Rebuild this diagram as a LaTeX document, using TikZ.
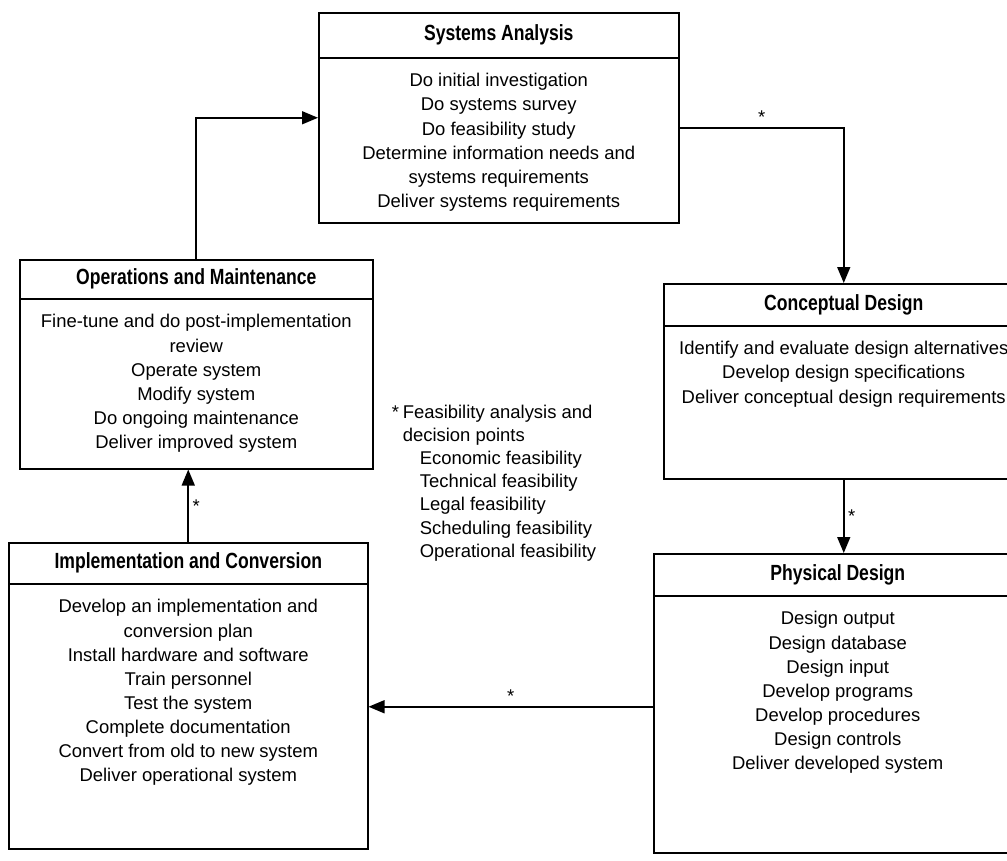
\documentclass[tikz,border=0pt]{standalone}
\usepackage{fontspec}
\setmainfont{Liberation Sans}
\newfontfamily\headfont{Liberation Sans}[FakeStretch=0.8]
\usetikzlibrary{positioning,arrows.meta}

\newcommand{\boxtext}[3]{\parbox[c][#2][t]{#1}{\centering\vspace*{7pt}\strut #3}}

\begin{document}
\begin{tikzpicture}[
    x=0.02cm, y=-0.02cm,
    line width=0.9pt,
    phase/.style={draw, anchor=north west, inner sep=0pt, minimum height=0.84cm, font=\headfont\bfseries\fontsize{12.5}{14}\selectfont},
    tasks/.style={draw, inner sep=0pt, font=\fontsize{10.5}{13.7}\selectfont},
    arrow/.style={-{Triangle[length=3.2mm, width=2.6mm]}},
    star/.style={font=\fontsize{10.5}{12}\selectfont, inner sep=2pt}
]
\useasboundingbox (0,0) rectangle (1007,861);

% Systems analysis
\node[phase, minimum width=7.2cm, minimum height=0.9cm] (saHead) at (318,12) {Systems Analysis};
\node[tasks, below=-0.9pt of saHead] (saBody) {\boxtext{7.2cm}{3.3cm}{Do initial investigation\\ Do systems survey\\ Do feasibility study\\ Determine information needs and\\ systems requirements\\ Deliver systems requirements}};

% Conceptual design
\node[phase, minimum width=7.2cm] (cdHead) at (663,283) {Conceptual Design};
\node[tasks, below=-0.9pt of cdHead] (cdBody) {\boxtext{7.2cm}{3.06cm}{Identify and evaluate design alternatives\\ Develop design specifications\\ Deliver conceptual design requirements}};

% Physical design
\node[phase, minimum width=7.36cm] (pdHead) at (653,553) {Physical Design};
\node[tasks, below=-0.9pt of pdHead] (pdBody) {\boxtext{7.36cm}{5.14cm}{Design output\\ Design database\\ Design input\\ Develop programs\\ Develop procedures\\ Design controls\\ Deliver developed system}};

% Implementation and conversion
\node[phase, minimum width=7.18cm, minimum height=0.82cm] (icHead) at (8,542) {Implementation and Conversion};
\node[tasks, below=-0.9pt of icHead] (icBody) {\boxtext{7.18cm}{5.3cm}{Develop an implementation and\\ conversion plan\\ Install hardware and software\\ Train personnel\\ Test the system\\ Complete documentation\\ Convert from old to new system\\ Deliver operational system}};

% Operations and maintenance
\node[phase, minimum width=7.06cm, minimum height=0.78cm] (omHead) at (19,259) {Operations and Maintenance};
\node[tasks, below=-0.9pt of omHead] (omBody) {\boxtext{7.06cm}{3.4cm}{Fine-tune and do post-implementation\\ review\\ Operate system\\ Modify system\\ Do ongoing maintenance\\ Deliver improved system}};

% Feasibility note
\node[anchor=north west, align=left, inner sep=0pt, font=\fontsize{10.5}{13.2}\selectfont] (note) at (391,404)
    {\makebox[0.22cm][l]{*}Feasibility analysis and\\
     \hspace*{0.22cm}decision points\\
     \hspace*{0.56cm}Economic feasibility\\
     \hspace*{0.56cm}Technical feasibility\\
     \hspace*{0.56cm}Legal feasibility\\
     \hspace*{0.56cm}Scheduling feasibility\\
     \hspace*{0.56cm}Operational feasibility};

% Phase connections
\draw[arrow] (omHead.north) |- ([yshift=0.45cm]saBody.west);
\draw[arrow] ([yshift=0.25cm]saBody.east) -| (cdHead.north) node[star, pos=0.25, above] {*};
\draw[arrow] (cdBody.south) -- (cdBody.south |- pdHead.north) node[star, midway, right] {*};
\draw[arrow] ([yshift=0.35cm]pdBody.west) -- ([yshift=0.35cm]pdBody.west -| icBody.east) node[star, midway, above] {*};
\draw[arrow] (icHead.north) -- (icHead.north |- omBody.south) node[star, midway, right] {*};

\end{tikzpicture}
\end{document}
